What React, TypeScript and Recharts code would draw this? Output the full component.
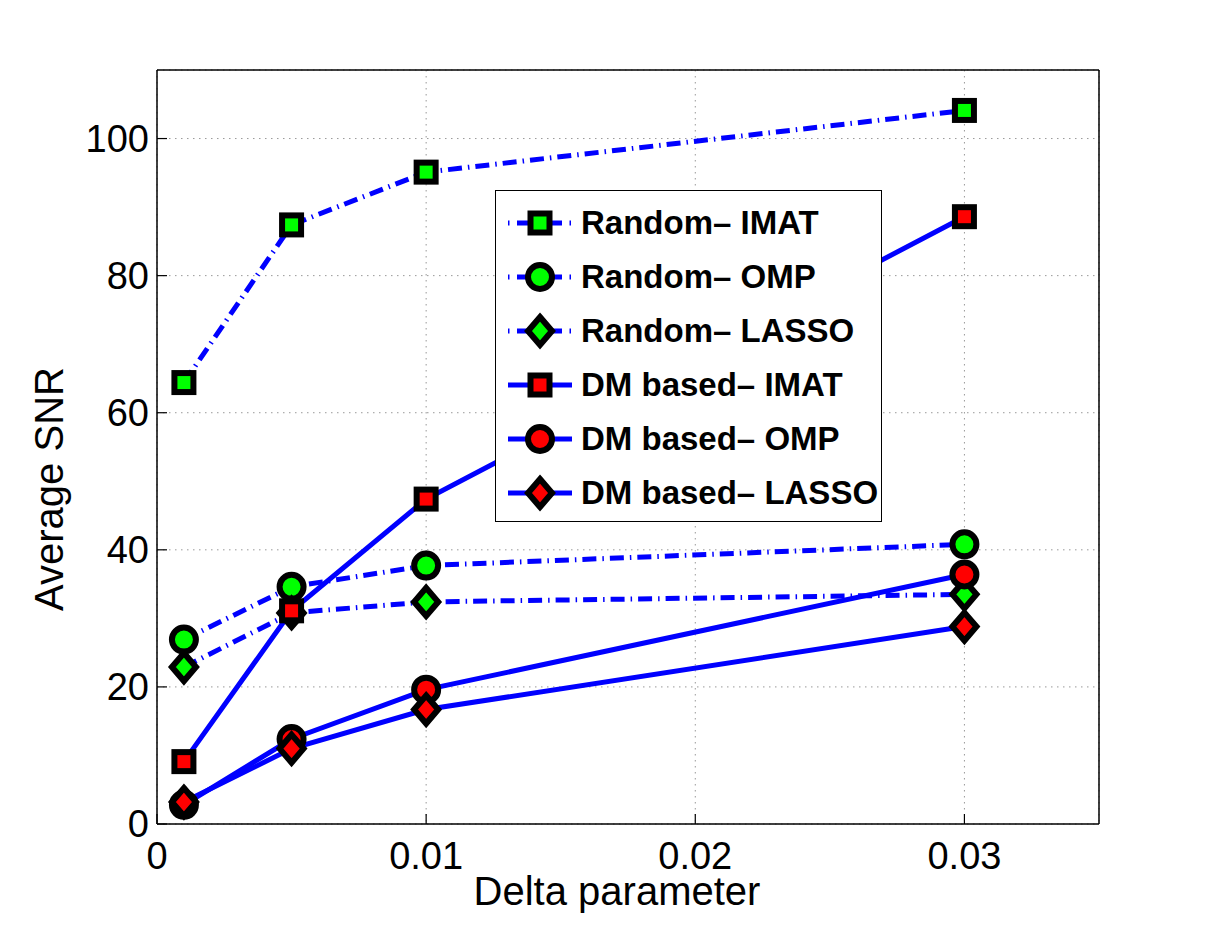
import React from "react"
import { LineChart, Line, XAxis, YAxis, CartesianGrid, Legend, ReferenceLine } from "recharts"

// delta values on the x axis
const deltas = [0.001, 0.005, 0.01, 0.03]

// average SNR per method
const randomImat = [64.4, 87.4, 95.1, 104.1]
const randomOmp = [26.9, 34.6, 37.7, 40.8]
const randomLasso = [22.9, 30.8, 32.4, 33.5]
const dmImat = [9.1, 31.1, 47.4, 88.6]
const dmOmp = [2.8, 12.4, 19.6, 36.4]
const dmLasso = [3.2, 11.0, 16.7, 28.8]

const xTicks = [0, 0.01, 0.02, 0.03]
const yTicks = [0, 20, 40, 60, 80, 100]
const xMax = 0.035
const yMax = 110

const FONT = "'Liberation Sans', Arial, Helvetica, sans-serif"
const BLUE = "#0000ff"
const DASH_DOT = "14 6 1.5 6"
const LINE_W = 5

type Shape = "square" | "circle" | "diamond"

const series: { key: string; name: string; values: number[]; shape: Shape; fill: string; dashed: boolean }[] = [
  { key: "rImat", name: "Random\u2013 IMAT", values: randomImat, shape: "square", fill: "#00ff00", dashed: true },
  { key: "rOmp", name: "Random\u2013 OMP", values: randomOmp, shape: "circle", fill: "#00ff00", dashed: true },
  { key: "rLasso", name: "Random\u2013 LASSO", values: randomLasso, shape: "diamond", fill: "#00ff00", dashed: true },
  { key: "dmImat", name: "DM based\u2013 IMAT", values: dmImat, shape: "square", fill: "#ff0000", dashed: false },
  { key: "dmOmp", name: "DM based\u2013 OMP", values: dmOmp, shape: "circle", fill: "#ff0000", dashed: false },
  { key: "dmLasso", name: "DM based\u2013 LASSO", values: dmLasso, shape: "diamond", fill: "#ff0000", dashed: false },
]

const data = deltas.map((d, i) => {
  const row: Record<string, number> = { delta: d }
  series.forEach((s) => (row[s.key] = s.values[i]))
  return row
})

function Marker({ cx, cy, shape, fill }: { cx: number; cy: number; shape: Shape; fill: string }) {
  if (cx == null || cy == null) return null
  if (shape === "square") {
    return <rect x={cx - 9.5} y={cy - 9.5} width={19} height={19} fill={fill} stroke="#000" strokeWidth={6} />
  }
  if (shape === "circle") {
    return <circle cx={cx} cy={cy} r={12} fill={fill} stroke="#000" strokeWidth={6} />
  }
  const pts = `${cx},${cy - 14} ${cx + 12},${cy} ${cx},${cy + 14} ${cx - 12},${cy}`
  return <polygon points={pts} fill={fill} stroke="#000" strokeWidth={6} strokeLinejoin="miter" />
}

function LegendBox() {
  return (
    <div
      style={{
        width: 387,
        height: 332,
        boxSizing: "border-box",
        border: "1.5px solid #000",
        background: "#fff",
        paddingTop: 5,
      }}
    >
      {series.map((s) => (
        <div key={s.key} style={{ display: "flex", alignItems: "center", height: 54 }}>
          <svg width={66} height={50} style={{ marginLeft: 12, marginRight: 7 }}>
            {s.dashed ? (
              <g stroke={BLUE} strokeWidth={LINE_W}>
                <line x1={0} y1={25} x2={1.5} y2={25} />
                <line x1={9} y1={25} x2={54} y2={25} />
                <line x1={61.5} y1={25} x2={63} y2={25} />
              </g>
            ) : (
              <line x1={0} y1={25} x2={64} y2={25} stroke={BLUE} strokeWidth={LINE_W} />
            )}
            <Marker cx={32} cy={25} shape={s.shape} fill={s.fill} />
          </svg>
          <span style={{ fontFamily: FONT, fontWeight: "bold", fontSize: 33, color: "#000", whiteSpace: "nowrap" }}>
            {s.name}
          </span>
        </div>
      ))}
    </div>
  )
}

const tickStyle = { fontSize: 38, fill: "#000", fontFamily: FONT }
const axisLine = { stroke: "#000", strokeWidth: 1.5 }
const tickLine = { stroke: "#000", strokeWidth: 1.2 }

export default function App() {
  return (
    <div style={{ position: "absolute", left: 0, top: 0, background: "#fff" }}>
      <LineChart width={1213} height={928} data={data} margin={{ top: 70, right: 114, bottom: 0, left: 0 }}>
        <CartesianGrid stroke="#999" strokeDasharray="1.5 4.5" strokeWidth={1} />
        <XAxis
          dataKey="delta"
          type="number"
          domain={[0, xMax]}
          ticks={xTicks}
          allowDataOverflow
          height={104}
          tickSize={-10}
          tickMargin={28}
          tick={tickStyle}
          axisLine={axisLine}
          tickLine={tickLine}
          label={{ value: "Delta parameter", position: "center", dx: -11, dy: 15, fontSize: 40, fill: "#000", fontFamily: FONT }}
        />
        <YAxis
          type="number"
          domain={[0, yMax]}
          ticks={yTicks}
          allowDataOverflow
          width={157}
          tickSize={-10}
          tickMargin={18}
          tick={tickStyle}
          axisLine={axisLine}
          tickLine={tickLine}
          label={{ value: "Average SNR", angle: -90, position: "center", dx: -30, dy: 42, fontSize: 40, fill: "#000", fontFamily: FONT }}
        />
        {/* closing the axes box on top and right */}
        <ReferenceLine y={yMax} stroke="#000" strokeWidth={1.5} ifOverflow="visible" />
        <ReferenceLine x={xMax} stroke="#000" strokeWidth={1.5} ifOverflow="visible" />
        <Legend
          layout="vertical"
          align="center"
          verticalAlign="middle"
          wrapperStyle={{ left: 495, top: 190, width: 387 }}
          content={() => <LegendBox />}
        />
        {series.map((s) => (
          <Line
            key={s.key}
            type="linear"
            dataKey={s.key}
            name={s.name}
            stroke={BLUE}
            strokeWidth={LINE_W}
            strokeDasharray={s.dashed ? DASH_DOT : undefined}
            dot={(p: any) => <Marker key={`${s.key}-${p.index}`} cx={p.cx} cy={p.cy} shape={s.shape} fill={s.fill} />}
            activeDot={false}
            isAnimationActive={false}
          />
        ))}
      </LineChart>
    </div>
  )
}
